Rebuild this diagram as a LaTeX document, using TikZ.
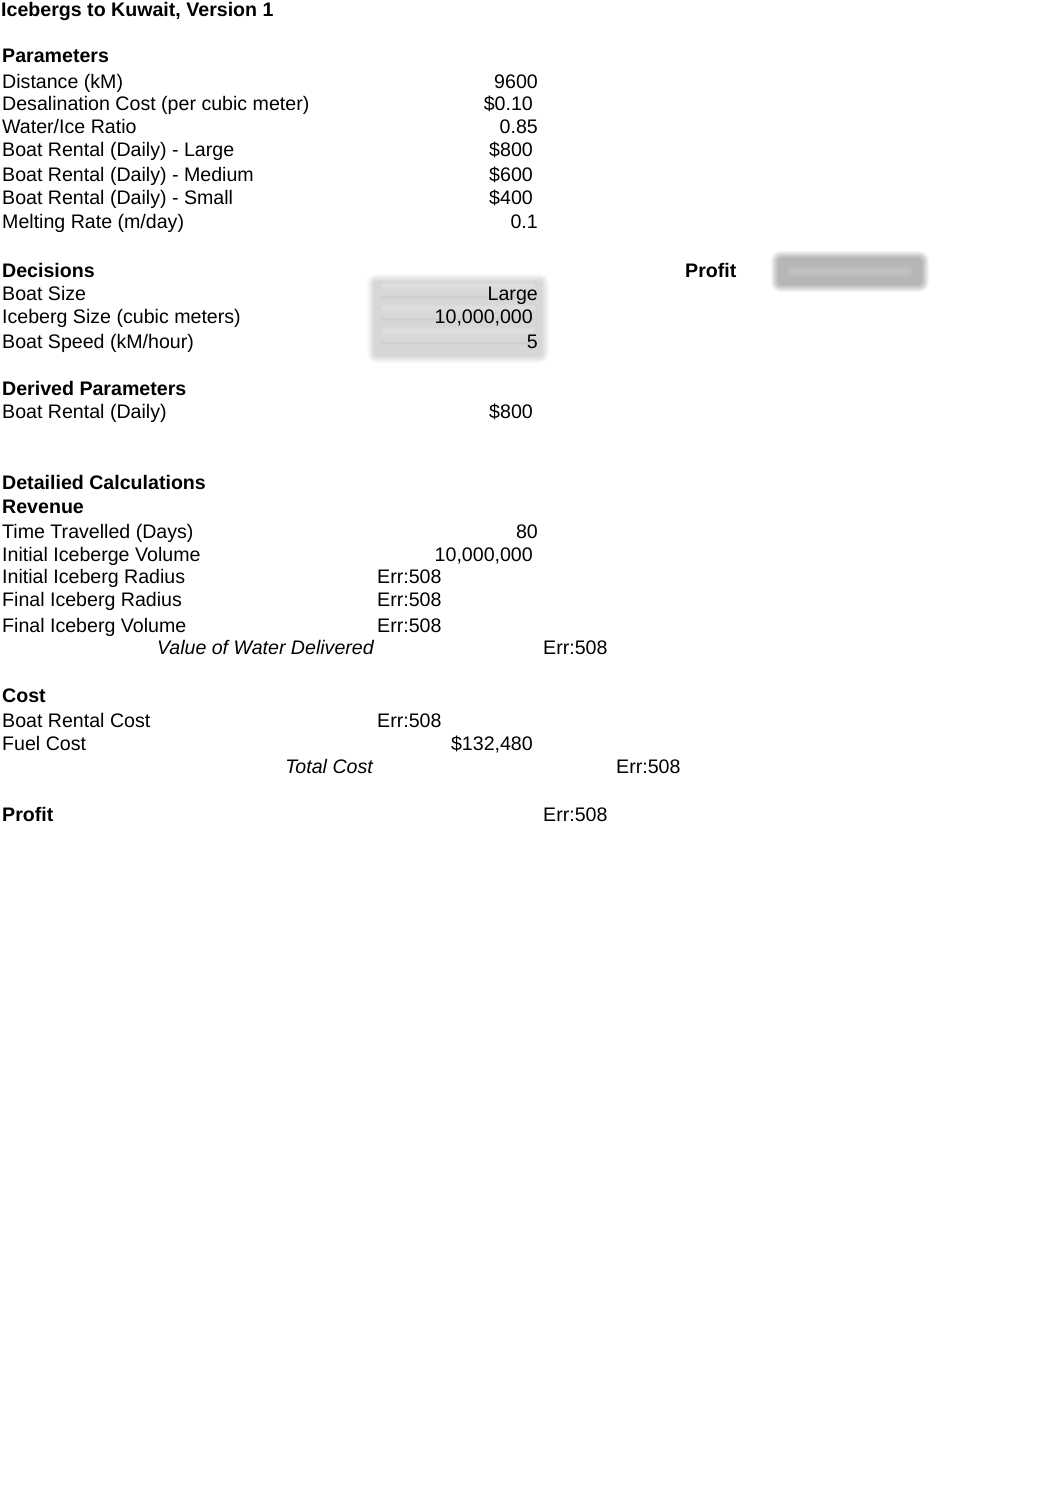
\documentclass[tikz,border=0pt]{standalone}
\usepackage{fontspec}
\setmainfont{Liberation Sans}
\begin{document}
\begin{tikzpicture}[x=1pt,y=-1pt,
  every node/.style={inner sep=0pt,font=\fontsize{19.6}{22}\selectfont},
  lbl/.style={anchor=base west},
  val/.style={anchor=base east},
  hdr/.style={anchor=base west,font=\fontsize{19.6}{22}\selectfont\bfseries},
  itl/.style={anchor=base east,font=\fontsize{19.6}{22}\selectfont\itshape}]
\useasboundingbox[fill=white] (0,0) rectangle (1062,1506);
% shaded decision cells
\foreach \k in {0,...,7}{
  \fill[black,opacity=0.02,rounded corners=\k pt+2pt] (374-\k,281-\k) rectangle (542+\k,356+\k);
}
\foreach \yy in {286,308,331}{
  \foreach \w in {2,4,6,8}{
    \draw[white,opacity=0.06,line width=\w pt,line cap=round] (384,\yy) -- (532,\yy);
  }
}
\foreach \yy in {297,319,343}{
  \foreach \w in {1,2,3}{
    \draw[black,opacity=0.012,line width=\w pt,line cap=round] (382,\yy) -- (534,\yy);
  }
}
% shaded profit cell
\foreach \k in {0,...,7}{
  \fill[black,opacity=0.04,rounded corners=\k pt+3pt] (778-\k,258-\k) rectangle (922+\k,285+\k);
}
\foreach \w in {3,6,9,12}{
  \draw[white,opacity=0.05,line width=\w pt,line cap=round] (792,271) -- (908,271);
}

\node[hdr] (title) at (1,17) {Icebergs to Kuwait, Version 1};
\node[hdr] (hpar) at (2,63) {Parameters};
\node[lbl] (l1) at (2,89) {Distance (kM)};
\node[lbl] (l2) at (2,111) {Desalination Cost (per cubic meter)};
\node[lbl] (l3) at (2,134) {Water/Ice Ratio};
\node[lbl] (l4) at (2,157) {Boat Rental (Daily) - Large};
\node[lbl] (l5) at (2,182) {Boat Rental (Daily) - Medium};
\node[lbl] (l6) at (2,205) {Boat Rental (Daily) - Small};
\node[lbl] (l7) at (2,229) {Melting Rate (m/day)};
\node[hdr] (hdec) at (2,277) {Decisions};
\node[hdr] (hprof) at (685,277) {Profit};
\node[lbl] (l8) at (2,300) {Boat Size};
\node[lbl] (l9) at (2,323) {Iceberg Size (cubic meters)};
\node[lbl] (l10) at (2,348) {Boat Speed (kM/hour)};
\node[hdr] (hder) at (2,395) {Derived Parameters};
\node[lbl] (l11) at (2,418) {Boat Rental (Daily)};
\node[hdr] (hdet) at (2,489) {Detailied Calculations};
\node[hdr] (hrev) at (2,513) {Revenue};
\node[lbl] (l12) at (2,538) {Time Travelled (Days)};
\node[lbl] (l13) at (2,561) {Initial Iceberge Volume};
\node[lbl] (l14) at (2,583) {Initial Iceberg Radius};
\node[lbl] (l15) at (2,606) {Final Iceberg Radius};
\node[lbl] (l16) at (2,632) {Final Iceberg Volume};
\node[itl] (l17) at (374,654) {Value of Water Delivered};
\node[hdr] (hcost) at (2,702) {Cost};
\node[lbl] (l18) at (2,727) {Boat Rental Cost};
\node[lbl] (l19) at (2,750) {Fuel Cost};
\node[itl] (l20) at (373,773) {Total Cost};
\node[hdr] (hprofit) at (2,821) {Profit};

\node[val] (v1) at (538,89) {9600};
\node[val] (v2) at (533,111) {\$0.10};
\node[val] (v3) at (538,134) {0.85};
\node[val] (v4) at (533,157) {\$800};
\node[val] (v5) at (533,182) {\$600};
\node[val] (v6) at (533,205) {\$400};
\node[val] (v7) at (538,229) {0.1};
\node[val] (v8) at (538,300) {Large};
\node[val] (v9) at (533,323) {10,000,000};
\node[val] (v10) at (538,348) {5};
\node[val] (v11) at (533,418) {\$800};
\node[val] (v12) at (538,538) {80};
\node[val] (v13) at (533,561) {10,000,000};
\node[lbl] (v14) at (377,583) {Err:508};
\node[lbl] (v15) at (377,606) {Err:508};
\node[lbl] (v16) at (377,632) {Err:508};
\node[lbl] (v17) at (543,654) {Err:508};
\node[lbl] (v18) at (377,727) {Err:508};
\node[val] (v19) at (533,750) {\$132,480};
\node[lbl] (v20) at (616,773) {Err:508};
\node[lbl] (v21) at (543,821) {Err:508};
\end{tikzpicture}
\end{document}
